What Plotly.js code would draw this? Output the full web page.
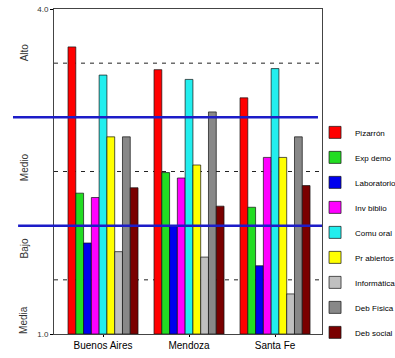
<!DOCTYPE html>
<html>
<head>
<meta charset="utf-8">
<script src="https://cdn.plot.ly/plotly-3.0.1.min.js"></script>
<style>html,body{margin:0;padding:0;background:#fff;}#chart{width:395px;height:358px;}</style>
</head>
<body>
<div id="chart"></div>
<script>
var provinces = ['Buenos Aires', 'Mendoza', 'Santa Fe'];
var seriesNames = ['Pizarrón', 'Exp demo', 'Laboratorio', 'Inv biblio', 'Comu oral', 'Pr abiertos', 'Informática', 'Deb Física', 'Deb social'];
var seriesColors = ['#ff0000', '#22dd22', '#0000ee', '#ff00ff', '#22eeee', '#ffff00', '#c0c0c0', '#888888', '#7a0000'];
var pizarron    = [3.65, 3.44, 3.18];
var expDemo     = [2.30, 2.49, 2.17];
var laboratorio = [1.84, 2.00, 1.63];
var invBiblio   = [2.26, 2.44, 2.63];
var comuOral    = [3.39, 3.35, 3.45];
var prAbiertos  = [2.82, 2.56, 2.63];
var informatica = [1.76, 1.71, 1.37];
var debFisica   = [2.82, 3.05, 2.82];
var debSocial   = [2.35, 2.18, 2.37];
var seriesValues = [pizarron, expDemo, laboratorio, invBiblio, comuOral, prAbiertos, informatica, debFisica, debSocial];

var levelLabels = ['Alto', 'Medio', 'Bajo', 'Media'];
var levelLabelPos = [3.60, 2.54, 1.79, 1.13];
var dashedLevels = [1.5, 2.5, 3.5];
var blueLevels = [3.0, 2.0];
var yTickVals = [1, 4];
var yTickText = ['1.0', '4.0'];
var baseValue = 1;

var traces = seriesNames.map(function (name, i) {
  return {
    type: 'bar',
    name: name,
    x: provinces,
    y: seriesValues[i].map(function (v) { return v - baseValue; }),
    base: baseValue,
    legendgroup: 'g' + i,
    marker: { color: seriesColors[i], line: { color: '#111', width: 0.7 } }
  };
});

var shapes = [];
dashedLevels.forEach(function (v) {
  shapes.push({ type: 'line', xref: 'paper', yref: 'y', x0: 0, x1: 1, y0: v, y1: v,
    line: { color: '#222', width: 1, dash: '4px,5px' }, layer: 'below' });
});
var blueX = [[-0.153, 0.985], [-0.134, 1.0]];
blueLevels.forEach(function (v, i) {
  shapes.push({ type: 'line', xref: 'paper', yref: 'y', x0: blueX[i][0], x1: blueX[i][1], y0: v, y1: v,
    line: { color: '#1c1cc8', width: 2.5 }, layer: 'above' });
});

var annotations = levelLabels.map(function (t, i) {
  return { text: t, xref: 'paper', yref: 'y', x: -0.112, y: levelLabelPos[i], showarrow: false,
    textangle: -90, font: { family: 'Liberation Sans, Arial, sans-serif', size: 10, color: '#333' },
    xanchor: 'center', yanchor: 'middle' };
});

var layout = {
  width: 395, height: 358,
  margin: { l: 54, r: 73, t: 9, b: 24, autoexpand: false },
  paper_bgcolor: '#fff', plot_bgcolor: '#fff',
  barmode: 'group', bargap: 0.186, bargroupgap: 0,
  showlegend: true,
  legend: { x: 0.974, xanchor: 'left', y: 0.665, yanchor: 'top', tracegroupgap: 6,
    font: { family: 'Liberation Sans, Arial, sans-serif', size: 8, color: '#000' },
    bgcolor: 'rgba(0,0,0,0)' },
  xaxis: { type: 'category', range: [-0.57, 2.546], showline: true, mirror: true, linecolor: '#444', linewidth: 1,
    ticks: 'outside', ticklen: 2, tickcolor: '#000', showgrid: false, zeroline: false,
    tickfont: { family: 'Liberation Sans, Arial, sans-serif', size: 10, color: '#000' } },
  yaxis: { range: [1, 4], showline: true, mirror: true, linecolor: '#444', linewidth: 1,
    tickmode: 'array', tickvals: yTickVals, ticktext: yTickText,
    ticks: 'outside', ticklen: 3, tickcolor: '#000', showgrid: false, zeroline: false,
    tickfont: { family: 'Liberation Sans, Arial, sans-serif', size: 8, color: '#333' } },
  shapes: shapes,
  annotations: annotations
};

Plotly.newPlot('chart', traces, layout, { displayModeBar: false, staticPlot: true });
</script>
</body>
</html>
